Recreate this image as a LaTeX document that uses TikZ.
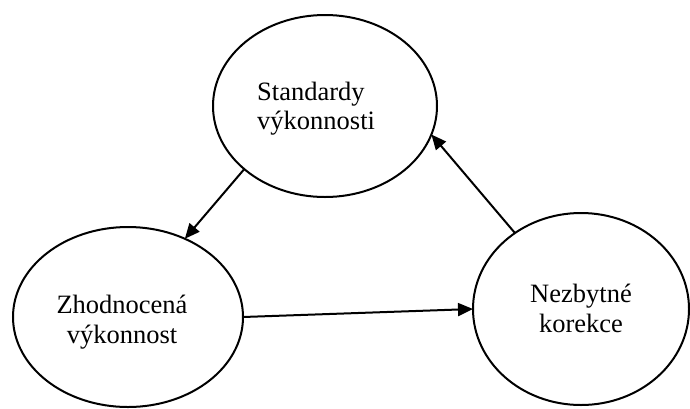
\documentclass[tikz,border=0pt]{standalone}
\usepackage{fontspec}
\setmainfont{Liberation Serif}
\usetikzlibrary{arrows.meta,shapes.geometric}
\begin{document}
\begin{tikzpicture}[x=1pt,y=-1pt,
  oval/.style={draw,ellipse,line width=2pt,inner sep=0pt,outer sep=0pt},
  lbl/.style={inner sep=0pt,font=\fontsize{26.5}{30}\selectfont},
  flow/.style={line width=2pt,-{Triangle[length=15pt,width=13pt]}}]
\useasboundingbox (0,0) rectangle (690,408);
% the three stages of the control cycle
\node[oval,minimum width=224pt,minimum height=182pt] (std) at (325,106) {};
\node[oval,minimum width=230pt,minimum height=180pt] (eval) at (128,317) {};
\node[oval,minimum width=216pt,minimum height=192pt] (corr) at (581,309) {};
% stage captions
\node[lbl,anchor=base west] (std1) at (257,100) {Standardy};
\node[lbl,anchor=base west] (std2) at (257,129) {výkonnosti};
\node[lbl,anchor=base] (eval1) at (122,313) {Zhodnocená};
\node[lbl,anchor=base] (eval2) at (122,343) {výkonnost};
\node[lbl,anchor=base] (corr1) at (581,302) {Nezbytné};
\node[lbl,anchor=base] (corr2) at (581,332) {korekce};
% connectors
\draw[flow] (std.218.8) -- (eval.54.9);
\draw[flow] (eval.0.5) -- (corr.180);
\draw[flow] (corr.131.7) -- (std.-15.6);
\end{tikzpicture}
\end{document}
